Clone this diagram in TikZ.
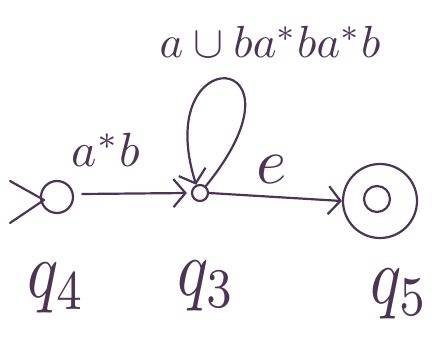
\documentclass[tikz,border=0pt]{standalone}
\usetikzlibrary{arrows.meta}
\definecolor{ink}{RGB}{78,52,84}
\begin{document}
\begin{tikzpicture}[x=1pt,y=-1pt,
  ink/.style={draw=ink,line width=2.2pt,line cap=round,line join=round},
  state/.style={ink,circle,inner sep=0pt},
  lbl/.style={text=ink,inner sep=0pt},
  arr/.style={ink,-{Straight Barb[length=12pt,width=28pt,line width=2.2pt]}}]
\useasboundingbox (0,0) rectangle (446,340);
% states
\node[state,minimum size=32pt] (q4) at (57,197) {};
\node[state,minimum size=16pt] (q3) at (200,193) {};
\node[state,minimum size=74pt] (q5) at (380,201) {};
\node[state,minimum size=26pt] (q5i) at (377,199) {};
% start mark
\coordinate (s1) at (10,181);
\coordinate (s2) at (44,200);
\coordinate (s3) at (10,223);
\draw[ink] (s1) -- (s2) -- (s3);
% transitions
\draw[arr] (q4.east) ++(8,-3) coordinate (a1) -- ([xshift=-4pt]q3.west);
\draw[arr] (q3.east) -- (q5.west);
\draw[arr] (q3.50) .. controls (318,48) and (150,38) .. (q3.115);
% labels
\node[lbl,scale=4.8] (l1) at (106,150) {$a^*b$};
\node[lbl,scale=6.5] (l2) at (272,170) {$e$};
\node[lbl,scale=4.5] (l3) at (270,42) {$a\cup ba^*ba^*b$};
\node[lbl,xscale=6.5,yscale=8] (n4) at (57,288) {$q_4$};
\node[lbl,xscale=6.5,yscale=8] (n3) at (207,286) {$q_3$};
\node[lbl,xscale=6.5,yscale=8] (n5) at (400,294) {$q_5$};
\end{tikzpicture}
\end{document}
